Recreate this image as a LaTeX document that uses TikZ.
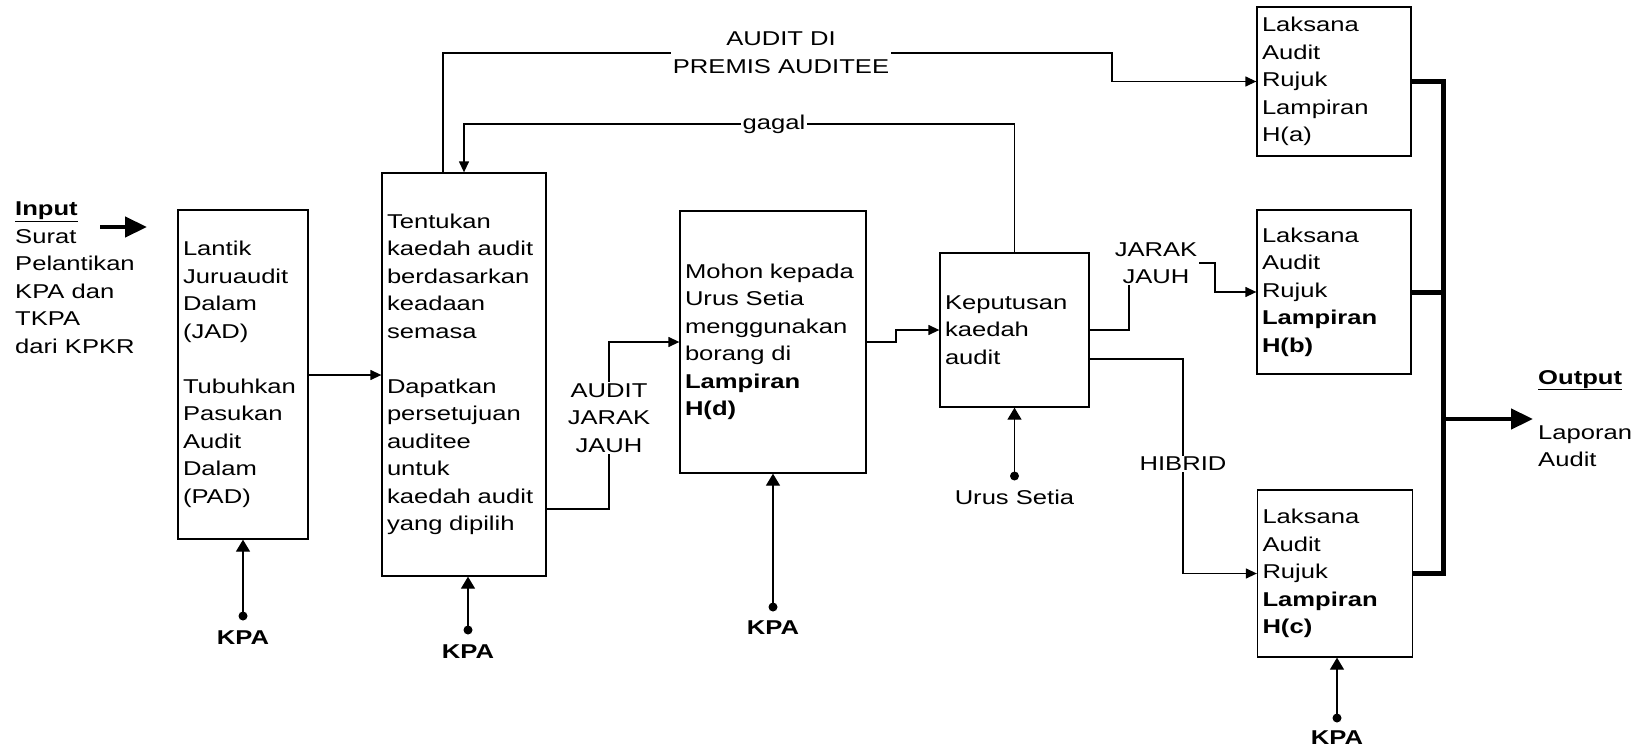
\documentclass[tikz,border=0pt]{standalone}
\usepackage{fontspec}
\setmainfont{Liberation Sans}[FakeStretch=1.28]
\usetikzlibrary{arrows.meta}
\begin{document}
\begin{tikzpicture}[x=1pt,y=-1pt,
  every node/.style={font=\fontsize{20}{27.5}\selectfont},
  box/.style={draw, line width=1.3pt, inner xsep=5pt, inner ysep=0pt, align=left},
  lbl/.style={fill=white, inner sep=1.5pt, align=center},
  arr/.style={line width=1.3pt, -{Triangle[length=11pt,width=10pt]}},
  feed/.style={line width=1.3pt, -{Triangle[length=12pt,width=14pt]}},
  dot/.style={circle, fill, inner sep=0pt, minimum size=9pt},
  kpa/.style={font=\fontsize{20}{27.5}\selectfont\bfseries},
  bus/.style={line width=5pt},
  big/.style={line width=4.5pt, -{Triangle[length=22pt,width=20pt]}},
]
\useasboundingbox (0,0) rectangle (1642,752);

% process boxes
\node[box, text width=120pt, minimum height=329pt] (b1) at (243,374.5)
  {Lantik\\Juruaudit\\Dalam\\(JAD)\\[27.5pt]Tubuhkan\\Pasukan\\Audit\\Dalam\\(PAD)};
\node[box, text width=154pt, minimum height=403pt] (b2) at (464,374.5)
  {Tentukan\\kaedah audit\\berdasarkan\\keadaan\\semasa\\[27.5pt]Dapatkan\\persetujuan\\auditee\\untuk\\kaedah audit\\yang dipilih};
\node[box, text width=176pt, minimum height=262pt] (b3) at (773,342)
  {Mohon kepada\\Urus Setia\\menggunakan\\borang di\\\textbf{Lampiran}\\\textbf{H(d)}};
\node[box, text width=139pt, minimum height=154pt] (kep) at (1014.5,330)
  {Keputusan\\kaedah\\audit};
\node[box, text width=144pt, minimum height=149pt] (ha) at (1334,81.5)
  {Laksana\\Audit\\Rujuk\\Lampiran\\H(a)};
\node[box, text width=144pt, minimum height=164pt] (hb) at (1334,292)
  {Laksana\\Audit\\Rujuk\\\textbf{Lampiran}\\\textbf{H(b)}};
\node[box, text width=145pt, minimum height=167pt] (hc) at (1335,573.5)
  {Laksana\\Audit\\Rujuk\\\textbf{Lampiran}\\\textbf{H(c)}};

% input and output
\node[align=left, anchor=west, inner sep=0pt] (inp) at (15,277.5)
  {\textbf{\underline{Input}}\\Surat\\Pelantikan\\KPA dan\\TKPA\\dari KPKR};
\coordinate (inA) at (100,227);
\coordinate (inB) at (147,227);
\draw[big] (inA) -- (inB);

\node[align=left, anchor=west, inner sep=0pt] (outp) at (1538,418.5)
  {\textbf{\underline{Output}}\\[27.5pt]Laporan\\Audit};

% output bus
\coordinate (busT) at (1443,81.5);
\coordinate (busB) at (1443,573.5);
\coordinate (busO) at (1443,419);
\coordinate (outTip) at (1533,419);
\draw[bus] (ha.east) -- (busT) -- (busB) -- (hc.east);
\draw[bus] (hb.east) -- (hb.east -| busT);
\draw[big] (busO) -- (outTip);

% flow connectors
\draw[arr] (b1.east |- 0,375) -- (b2.west |- 0,375);
\draw[arr] (443,0 |- b2.north) |- (1112,53) |- (ha.west);
\draw[arr] (kep.north) |- (774,124) -| (b2.north);
\draw[arr] (b2.east |- 0,509) -- (609,509) |- (b3.west);
\draw[arr] (b3.east) -- (896,342) |- (kep.west);
\draw[arr] (kep.east) -- (1129,330) |- (1215,263) |- (hb.west);
\draw[arr] (kep.east |- 0,359) -- (1183,359) |- (hc.west);

% connector labels
\node[lbl] (premis) at (781,52.5) {AUDIT DI\\PREMIS AUDITEE};
\node[lbl] (gagal) at (774,124) {gagal};
\node[lbl] (jarak1) at (609,418) {AUDIT\\JARAK\\JAUH};
\node[lbl] (jarak2) at (1156,263) {JARAK\\JAUH};
\node[lbl] (hibrid) at (1183,464) {HIBRID};

% controls / resources
\node[dot] (d1) at (243,616) {};
\node[kpa] (k1) at (243,638) {KPA};
\draw[feed] (d1.center) -- (b1.south);
\node[dot] (d2) at (468,630) {};
\node[kpa] (k2) at (468,652) {KPA};
\draw[feed] (d2.center) -- (d2.center |- b2.south);
\node[dot] (d3) at (773,607) {};
\node[kpa] (k3) at (773,628) {KPA};
\draw[feed] (d3.center) -- (b3.south);
\node[dot] (d4) at (1014.5,476) {};
\node (us) at (1014.5,497) {Urus Setia};
\draw[feed] (d4.center) -- (kep.south);
\node[dot] (d5) at (1337,718) {};
\node[kpa] (k5) at (1337,738) {KPA};
\draw[feed] (d5.center) -- (d5.center |- hc.south);
\end{tikzpicture}
\end{document}
